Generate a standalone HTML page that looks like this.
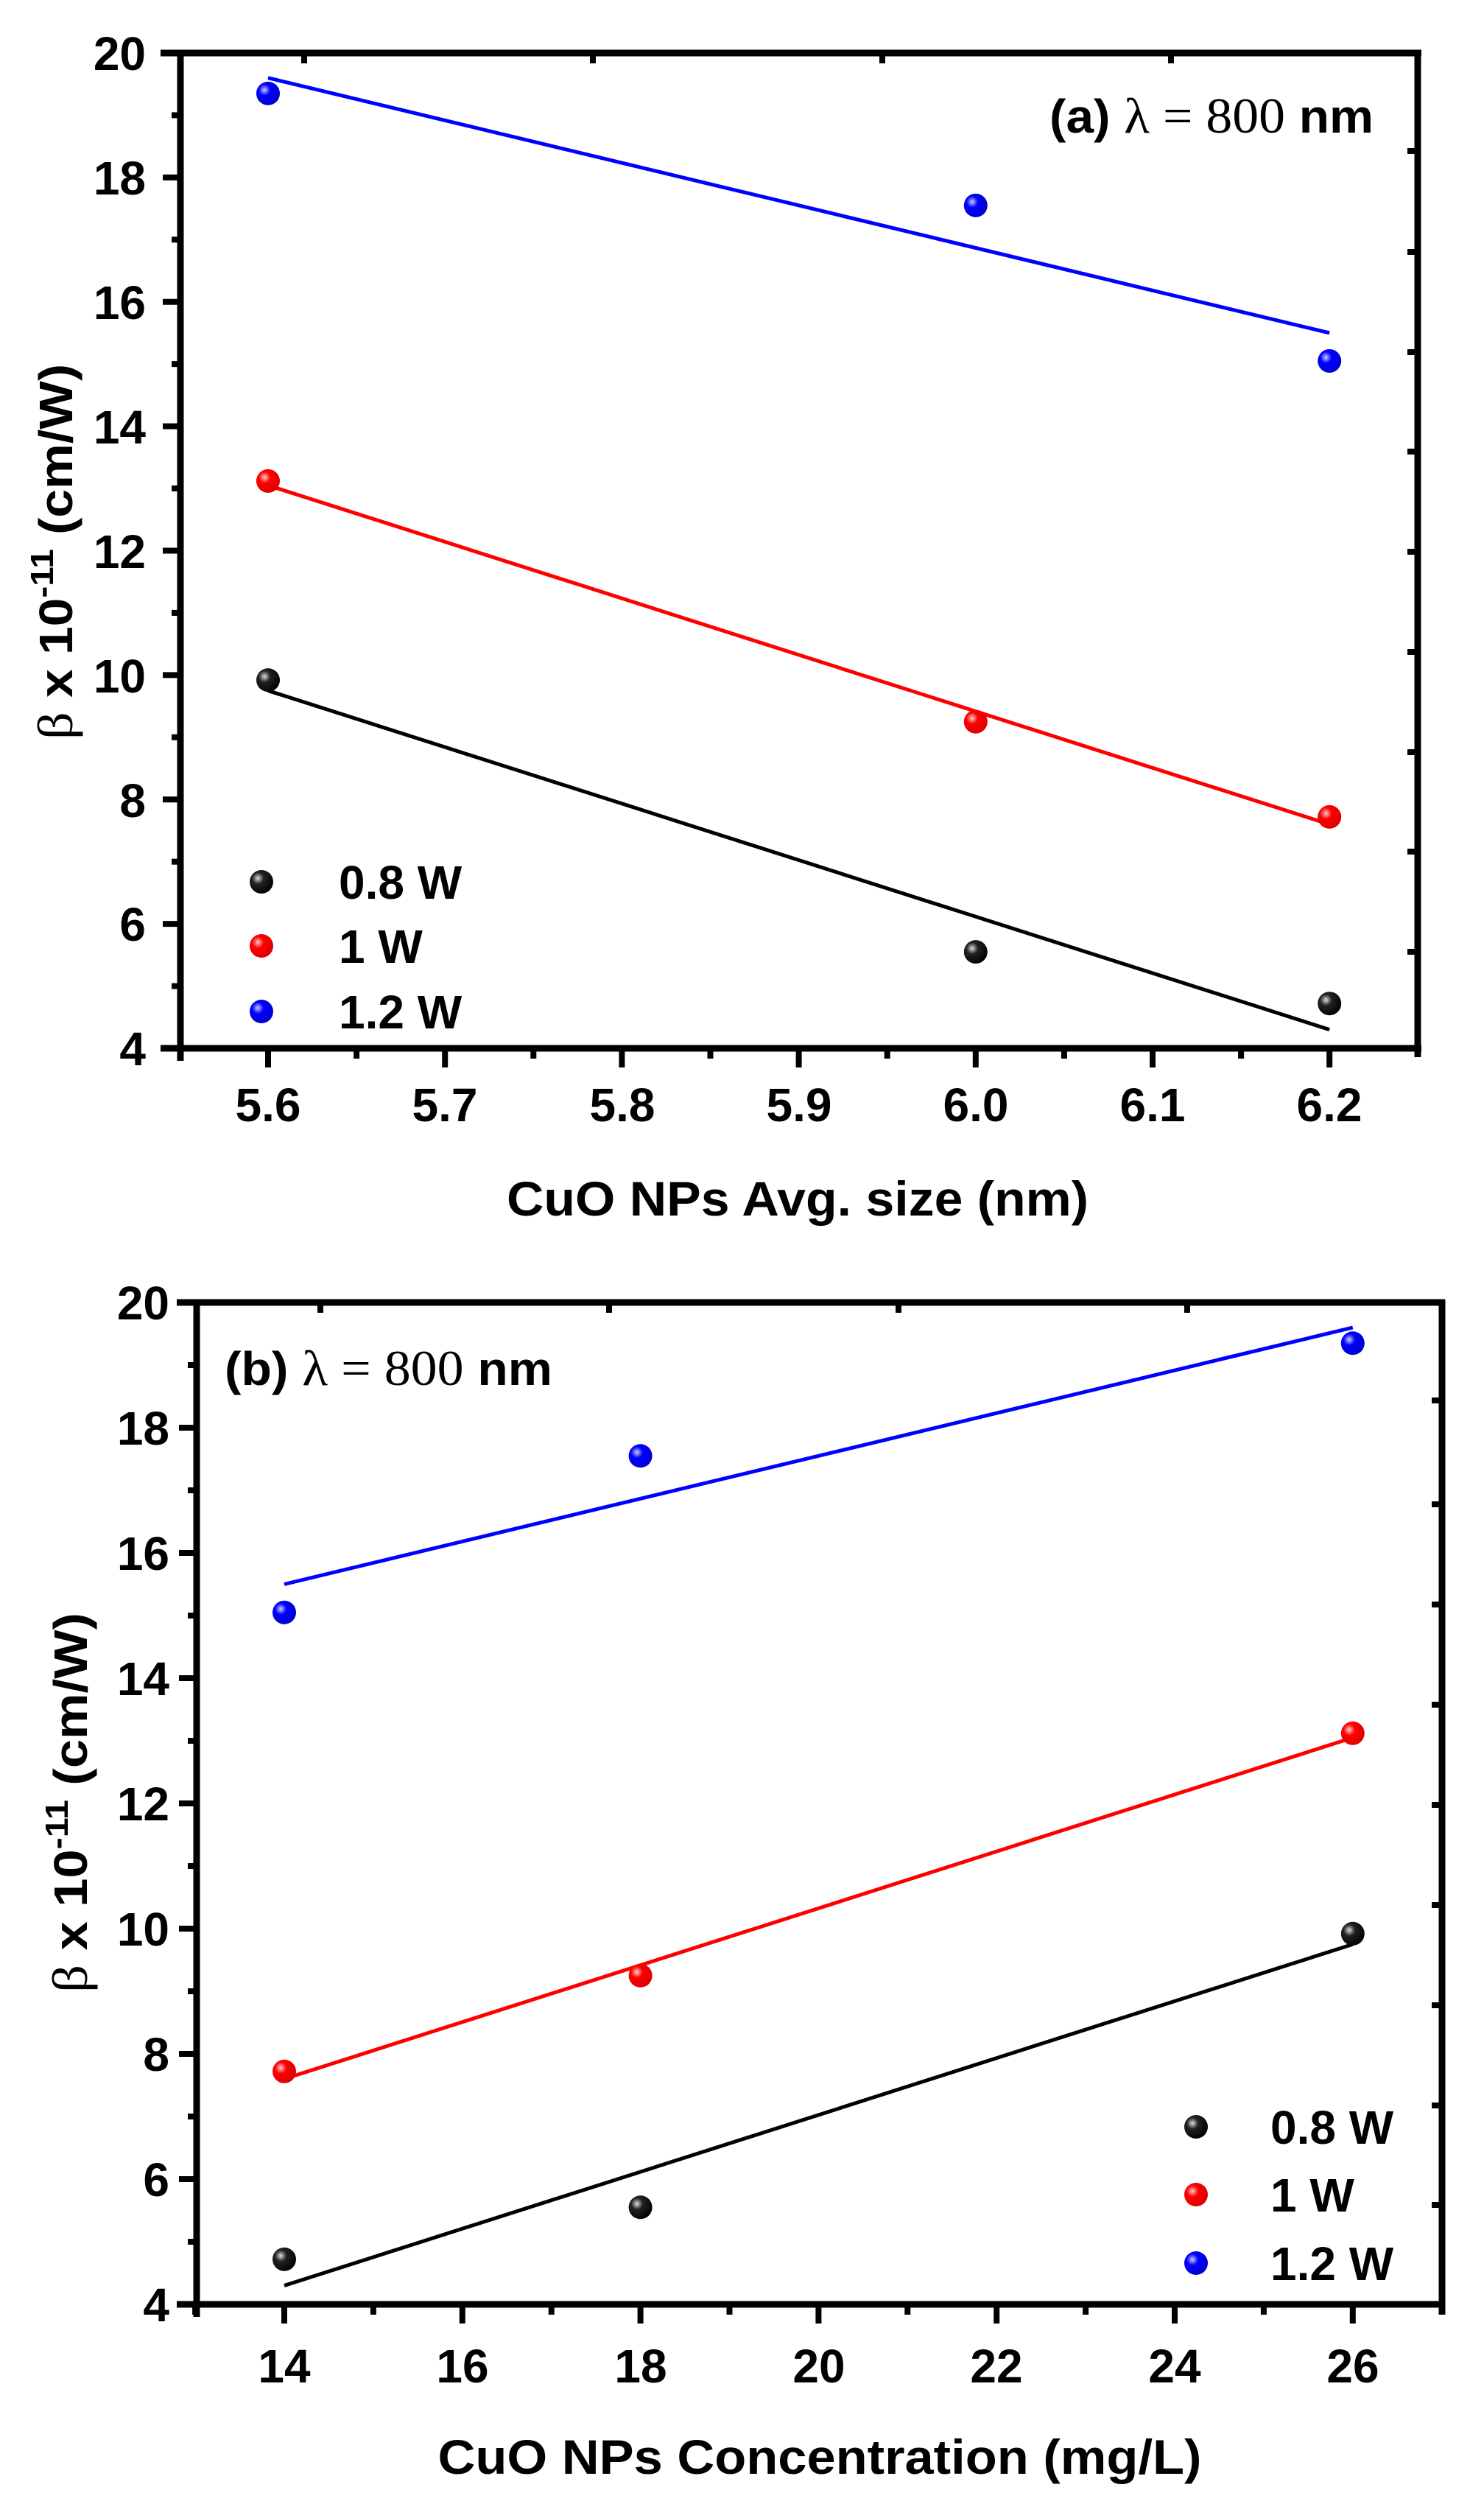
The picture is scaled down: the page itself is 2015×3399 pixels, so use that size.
<!DOCTYPE html>
<html><head><meta charset="utf-8"><style>
html,body{margin:0;padding:0;background:#fff}
svg{display:block}
.t{font-family:"Liberation Sans",sans-serif;font-weight:bold;font-size:64px;fill:#000}
.s{font-family:"Liberation Serif",serif;font-size:68px;fill:#000}
</style></head><body>
<svg width="2015" height="3399" viewBox="0 0 2015 3399" xmlns="http://www.w3.org/2000/svg">
<defs>
<radialGradient id="gk" cx="0.35" cy="0.35" r="0.7"><stop offset="0" stop-color="#ddd"/><stop offset="0.35" stop-color="#222"/><stop offset="1" stop-color="#000"/></radialGradient>
<radialGradient id="gr" cx="0.35" cy="0.35" r="0.7"><stop offset="0" stop-color="#fcc"/><stop offset="0.35" stop-color="#f00"/><stop offset="1" stop-color="#d00"/></radialGradient>
<radialGradient id="gb" cx="0.35" cy="0.35" r="0.7"><stop offset="0" stop-color="#ccf"/><stop offset="0.35" stop-color="#00f"/><stop offset="1" stop-color="#00c"/></radialGradient>
</defs>
<g id="ticks" stroke="#000" fill="none"></g>

<!-- ===== TOP PLOT ===== -->
<g stroke="#000" stroke-width="9" fill="none">
<line x1="218" y1="72" x2="1930" y2="72"/>
<line x1="245" y1="68" x2="245" y2="1440"/>
<line x1="218" y1="1423" x2="1930" y2="1423"/>
<line x1="1925" y1="68" x2="1925" y2="1435"/>
</g>
<!-- fits -->
<g stroke-width="5">
<line x1="364" y1="98" x2="1805" y2="1051" stroke="#00f" transform="translate(0,0)"/>
</g>
<script></script>
<g id="topfits"></g>
<g class="t" text-anchor="end">
<text x="198" y="95">20</text><text x="198" y="264">18</text><text x="198" y="433">16</text><text x="198" y="602">14</text><text x="198" y="771">12</text><text x="198" y="940">10</text><text x="198" y="1109">8</text><text x="198" y="1277">6</text><text x="198" y="1446">4</text>
</g>
<g class="t" text-anchor="middle">
<text x="364" y="1522">5.6</text><text x="604" y="1522">5.7</text><text x="845" y="1522">5.8</text><text x="1085" y="1522">5.9</text><text x="1325" y="1522">6.0</text><text x="1565" y="1522">6.1</text><text x="1805" y="1522">6.2</text>
<text x="1083" y="1650" font-size="66" textLength="790" lengthAdjust="spacingAndGlyphs">CuO NPs Avg. size (nm)</text>
</g>
<text transform="translate(98,749) rotate(-90)" text-anchor="middle" class="t" font-size="66" textLength="510" lengthAdjust="spacingAndGlyphs"><tspan class="s" font-weight="normal" font-size="66">β</tspan> x 10<tspan dy="-26" font-size="44">-11</tspan><tspan dy="26"> (cm/W)</tspan></text>
<text x="1425" y="180" class="t" textLength="440" lengthAdjust="spacingAndGlyphs">(a) <tspan class="s" font-weight="normal">λ = 800</tspan> nm</text>
<g class="t">
<text x="460" y="1220">0.8 W</text><text x="460" y="1307">1 W</text><text x="460" y="1396">1.2 W</text>
</g>

<!-- ===== BOTTOM PLOT ===== -->
<g stroke="#000" stroke-width="9" fill="none">
<line x1="240" y1="1768" x2="1962" y2="1768"/>
<line x1="267" y1="1764" x2="267" y2="3145"/>
<line x1="240" y1="3128" x2="1962" y2="3128"/>
<line x1="1958" y1="1764" x2="1958" y2="3142"/>
</g>
<g class="t" text-anchor="end">
<text x="230" y="1791">20</text><text x="230" y="1961">18</text><text x="230" y="2131">16</text><text x="230" y="2301">14</text><text x="230" y="2471">12</text><text x="230" y="2641">10</text><text x="230" y="2811">8</text><text x="230" y="2981">6</text><text x="230" y="3151">4</text>
</g>
<g class="t" text-anchor="middle">
<text x="386" y="3234">14</text><text x="628" y="3234">16</text><text x="870" y="3234">18</text><text x="1112" y="3234">20</text><text x="1353" y="3234">22</text><text x="1595" y="3234">24</text><text x="1837" y="3234">26</text>
<text x="1113" y="3358" font-size="66" textLength="1037" lengthAdjust="spacingAndGlyphs">CuO NPs Concentration (mg/L)</text>
</g>
<text transform="translate(118,2447) rotate(-90)" text-anchor="middle" class="t" font-size="66" textLength="516" lengthAdjust="spacingAndGlyphs"><tspan class="s" font-weight="normal" font-size="66">β</tspan> x 10<tspan dy="-26" font-size="44">-11</tspan><tspan dy="26"> (cm/W)</tspan></text>
<text x="305" y="1880" class="t" textLength="445" lengthAdjust="spacingAndGlyphs">(b) <tspan class="s" font-weight="normal">λ = 800</tspan> nm</text>
<g class="t">
<text x="1725" y="2910">0.8 W</text><text x="1725" y="3002">1 W</text><text x="1725" y="3095">1.2 W</text>
</g>
<g id="dyn"></g>
<script>
(function(){
var NS="http://www.w3.org/2000/svg";
var tk=document.getElementById("ticks"),dyn=document.getElementById("dyn");
function L(x1,y1,x2,y2,c,w,p){var e=document.createElementNS(NS,"line");e.setAttribute("x1",x1);e.setAttribute("y1",y1);e.setAttribute("x2",x2);e.setAttribute("y2",y2);e.setAttribute("stroke",c);e.setAttribute("stroke-width",w);(p||dyn).appendChild(e);}
function C(x,y,g){var e=document.createElementNS(NS,"circle");e.setAttribute("cx",x);e.setAttribute("cy",y);e.setAttribute("r",16);e.setAttribute("fill","url(#"+g+")");dyn.appendChild(e);}
// remove placeholder fit
var ph=document.querySelector("g[stroke-width='5']");if(ph)ph.remove();
function plot(X,Y,xs,yb,axL,axB,xMin,xMax,xStep,rticks,tticks,axT,axR,fits){
 for(var v=4;v<=20.001;v+=1){var y=Y(v);var maj=Math.round(v)%2==0;L(axL-(maj?24:12),y,axL,y,"#000",8,tk);}
 for(var v=xMin;v<=xMax+1e-6;v+=xStep){var x=X(v);var maj=Math.abs(Math.round(v/(2*xStep))-(v/(2*xStep)))<0.01;L(x,axB,x,axB+(maj?26:14),"#000",8,tk);}
 rticks.forEach(function(y){L(axR-14,y,axR,y,"#000",8,tk);});
 tticks.forEach(function(x){L(x,axT,x,axT+14,"#000",8,tk);});
 fits.forEach(function(f){L(X(f[0]),Y(f[1]),X(f[2]),Y(f[3]),f[4],5);});
 xs.forEach(function(p){C(X(p[0]),Y(p[1]),p[2]);});
}
var X1=function(v){return 364+(v-5.6)*2402;},Y1=function(v){return 1423-(v-4)*84.44;};
plot(X1,Y1,[[5.6,19.35,"gb"],[6.0,17.55,"gb"],[6.2,15.05,"gb"],[5.6,13.12,"gr"],[6.0,9.25,"gr"],[6.2,7.72,"gr"],[5.6,9.92,"gk"],[6.0,5.55,"gk"],[6.2,4.72,"gk"]],
 0,245,1423,5.6,6.2,0.05,[205,342,478,613,749,885,1021,1156,1292],[413,805,1198,1590],72,1925,
 [[5.6,19.6,6.2,15.5,"#00f"],[5.6,13.05,6.2,7.6,"#f00"],[5.6,9.75,6.2,4.3,"#000"]]);
// extra minor x ticks at 5.55 edge ignored
var X2=function(v){return 386+(v-14)*120.9;},Y2=function(v){return 3128-(v-4)*85;};
plot(X2,Y2,[[14,15.05,"gb"],[18,17.55,"gb"],[26,19.35,"gb"],[14,7.72,"gr"],[18,9.25,"gr"],[26,13.12,"gr"],[14,4.72,"gk"],[18,5.55,"gk"],[26,9.92,"gk"]],
 0,267,3128,13,27,1,[1901,2042,2178,2314,2450,2586,2722,2858,2993],[435,827,1220,1612],1768,1958,
 [[14,15.5,26,19.6,"#00f"],[14,7.6,26,13.05,"#f00"],[14,4.3,26,9.75,"#000"]]);
C(355,1197,"gk");C(355,1284,"gr");C(355,1373,"gb");
C(1624,2887,"gk");C(1624,2979,"gr");C(1624,3072,"gb");
})();
</script>
</svg>
</body></html>
